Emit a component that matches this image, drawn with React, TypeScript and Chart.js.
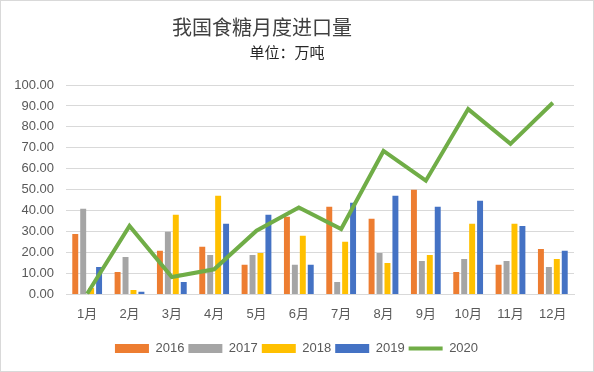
import React, { useEffect, useRef } from "react";
import { Chart, registerables } from "chart.js";

Chart.register(...registerables);

const months = ["1月", "2月", "3月", "4月", "5月", "6月", "7月", "8月", "9月", "10月", "11月", "12月"];
const v2016 = [28.9, 10.7, 20.8, 22.7, 14.1, 37.1, 41.9, 36.1, 50.0, 10.7, 14.1, 21.7];
const v2017 = [40.9, 17.9, 29.9, 18.8, 18.8, 14.1, 5.9, 19.8, 16.0, 16.9, 16.0, 13.1];
const v2018 = [3.0, 2.1, 38.0, 47.1, 19.8, 28.0, 25.1, 15.0, 18.8, 33.7, 33.7, 16.9];
const v2019 = [13.1, 1.3, 5.9, 33.7, 38.0, 14.1, 43.8, 47.1, 41.9, 44.7, 32.7, 20.8];
const v2020 = [0.3, 32.7, 8.3, 12.0, 30.4, 41.5, 31.2, 68.5, 54.3, 88.5, 71.9, 91.5];
const yearLabels = ["2016", "2017", "2018", "2019", "2020"];
const titleText = "我国食糖月度进口量";
const subtitleText = "单位：万吨";

const FONT = '"Liberation Sans", "Noto Sans CJK SC", sans-serif';
const TEXT = "#595959";

const titlePlugin = {
  id: "customTitle",
  afterLayout(chart: any) {
    if (chart.legend) {
      chart.legend.left += 5;
      chart.legend.right += 5;
    }
  },
  afterDraw(chart: any) {
    const ctx = chart.ctx;
    ctx.save();
    ctx.fillStyle = "#404040";
    ctx.textAlign = "center";
    ctx.textBaseline = "middle";
    ctx.font = '20px "Noto Sans CJK SC", sans-serif';
    ctx.fillText(titleText, 261, 26);
    ctx.fillStyle = "#262626";
    ctx.font = '15px "Noto Sans CJK SC", sans-serif';
    ctx.fillText(subtitleText, 286, 51);
    ctx.restore();
  },
};

export default function App() {
  const ref = useRef<HTMLCanvasElement | null>(null);
  useEffect(() => {
    if (!ref.current) return;
    const colors = ["#ED7D31", "#A5A5A5", "#FFC000", "#4472C4"];
    const barData = [v2016, v2017, v2018, v2019];
    const chart = new Chart(ref.current, {
      type: "bar",
      data: {
        labels: months,
        datasets: [
          ...barData.map((d, i) => ({
            type: "bar" as const,
            label: yearLabels[i],
            data: d,
            backgroundColor: colors[i],
            borderWidth: 0,
            categoryPercentage: 0.75,
            barPercentage: 0.75,
            order: 1,
            pointStyle: "rect",
          })),
          {
            type: "line" as const,
            label: yearLabels[4],
            data: v2020,
            borderColor: "#70AD47",
            backgroundColor: "#70AD47",
            borderWidth: 4,
            pointRadius: 0,
            tension: 0,
            order: 0,
            pointStyle: "line",
          },
        ],
      } as any,
      options: {
        animation: false,
        responsive: false,
        layout: { padding: { left: 8, right: 19, top: 84, bottom: 6 } },
        plugins: {
          title: { display: false },
          tooltip: { enabled: false },
          legend: {
            position: "bottom",
            labels: {
              usePointStyle: true,
              pointStyleWidth: 34,
              boxHeight: 9,
              padding: 4,
              color: TEXT,
              font: { family: FONT, size: 13 },
              sort: (a: any, b: any) => a.datasetIndex - b.datasetIndex,
            },
          },
        },
        scales: {
          x: {
            afterFit: (s: any) => {
              s.height += 4;
            },
            grid: { display: false, drawTicks: false },
            border: { display: true, color: "#d9d9d9" },
            ticks: { color: TEXT, font: { family: FONT, size: 13 }, padding: 12 },
          },
          y: {
            min: 0,
            max: 100,
            afterFit: (s: any) => {
              s.width = 57;
            },
            grid: { color: "#d9d9d9", drawTicks: false },
            border: { display: false },
            ticks: {
              stepSize: 10,
              padding: 12,
              color: TEXT,
              font: { family: FONT, size: 13 },
              callback: (v: any) => Number(v).toFixed(2),
            },
          },
        },
      } as any,
      plugins: [titlePlugin],
    });
    return () => chart.destroy();
  }, []);
  return (
    <div
      style={{
        position: "absolute",
        left: 0,
        top: 0,
        width: 594,
        height: 372,
        boxSizing: "border-box",
        border: "1px solid #d9d9d9",
        background: "#fff",
        overflow: "hidden",
      }}
    >
      <canvas ref={ref} width={592} height={370} style={{ display: "block" }} />
    </div>
  );
}
